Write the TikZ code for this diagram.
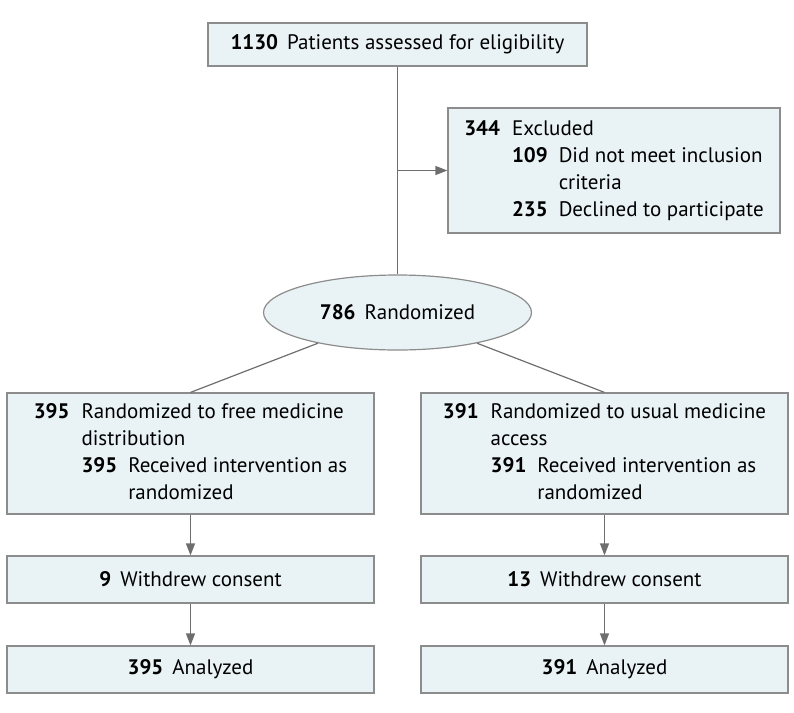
\documentclass[tikz,border=0pt]{standalone}
\usepackage{fontspec}
\setmainfont{PT Sans}
\usetikzlibrary{arrows.meta,shapes.geometric}
\definecolor{boxfill}{HTML}{E9F2F5}
\definecolor{boxline}{HTML}{8C8C8C}
\definecolor{flowline}{HTML}{6E6E6E}
\newcommand{\cnt}[1]{\textbf{#1}\hspace{4.5pt}}

\begin{document}
\begin{tikzpicture}[x=0.5pt,y=-0.5pt]
\useasboundingbox (0,0) rectangle (794,713);
\tikzset{box/.style={draw=boxline,fill=boxfill,line width=0.6pt,inner sep=0pt,align=center,font=\fontsize{10.5}{13.6}\selectfont}}
\tikzset{flow/.style={draw=flowline,line width=0.6pt}}
\tikzset{flowarr/.style={flow,-{Triangle[length=6pt,width=4.5pt]},fill=flowline}}

\node[box,minimum width=189.5pt,minimum height=21.5pt] (assessed) at (397.5,44.5) {\cnt{1130}Patients assessed for eligibility};
\node[box,minimum width=166pt,minimum height=62.5pt] (excluded) at (614,170.5) {\begin{tabular}{@{}r@{\hspace{6pt}}r@{\hspace{5.5pt}}l@{}}
\textbf{344} & \multicolumn{2}{@{}l@{}}{Excluded}\\
 & \textbf{109} & Did not meet inclusion\\
 & & criteria\\
 & \textbf{235} & Declined to participate
\end{tabular}};
\node[box,ellipse,minimum width=134pt,minimum height=37.5pt] (randomized) at (397.5,312.5) {\cnt{786}Randomized};
\node[box,minimum width=183.5pt,minimum height=60.5pt] (freemed) at (190.5,453.5) {\begin{tabular}{@{}r@{\hspace{6pt}}r@{\hspace{5.5pt}}l@{}}
\textbf{395} & \multicolumn{2}{@{}l@{}}{Randomized to free medicine}\\
 & \multicolumn{2}{@{}l@{}}{distribution}\\
 & \textbf{395} & Received intervention as\\
 & & randomized
\end{tabular}};
\node[box,minimum width=183.5pt,minimum height=60.5pt] (usualmed) at (604.5,453.5) {\begin{tabular}{@{}r@{\hspace{6pt}}r@{\hspace{5.5pt}}l@{}}
\textbf{391} & \multicolumn{2}{@{}l@{}}{Randomized to usual medicine}\\
 & \multicolumn{2}{@{}l@{}}{access}\\
 & \textbf{391} & Received intervention as\\
 & & randomized
\end{tabular}};
\node[box,minimum width=183.5pt,minimum height=23.5pt] (freewd) at (190.5,579.5) {\cnt{9}Withdrew consent};
\node[box,minimum width=183.5pt,minimum height=23.5pt] (usualwd) at (604.5,579.5) {\cnt{13}Withdrew consent};
\node[box,minimum width=183.5pt,minimum height=23.5pt] (freean) at (190.5,669.5) {\cnt{395}Analyzed};
\node[box,minimum width=183.5pt,minimum height=23.5pt] (usualan) at (604.5,669.5) {\cnt{391}Analyzed};
\coordinate (split) at (397.5,170.5);

\path (assessed) edge [flow] (randomized);
\path (split) edge [flowarr] (excluded);
\path (randomized) edge [flow] (freemed.north);
\path (randomized) edge [flow] (usualmed.north);
\path (freemed) edge [flowarr] (freewd);
\path (freewd) edge [flowarr] (freean);
\path (usualmed) edge [flowarr] (usualwd);
\path (usualwd) edge [flowarr] (usualan);
\end{tikzpicture}
\end{document}
